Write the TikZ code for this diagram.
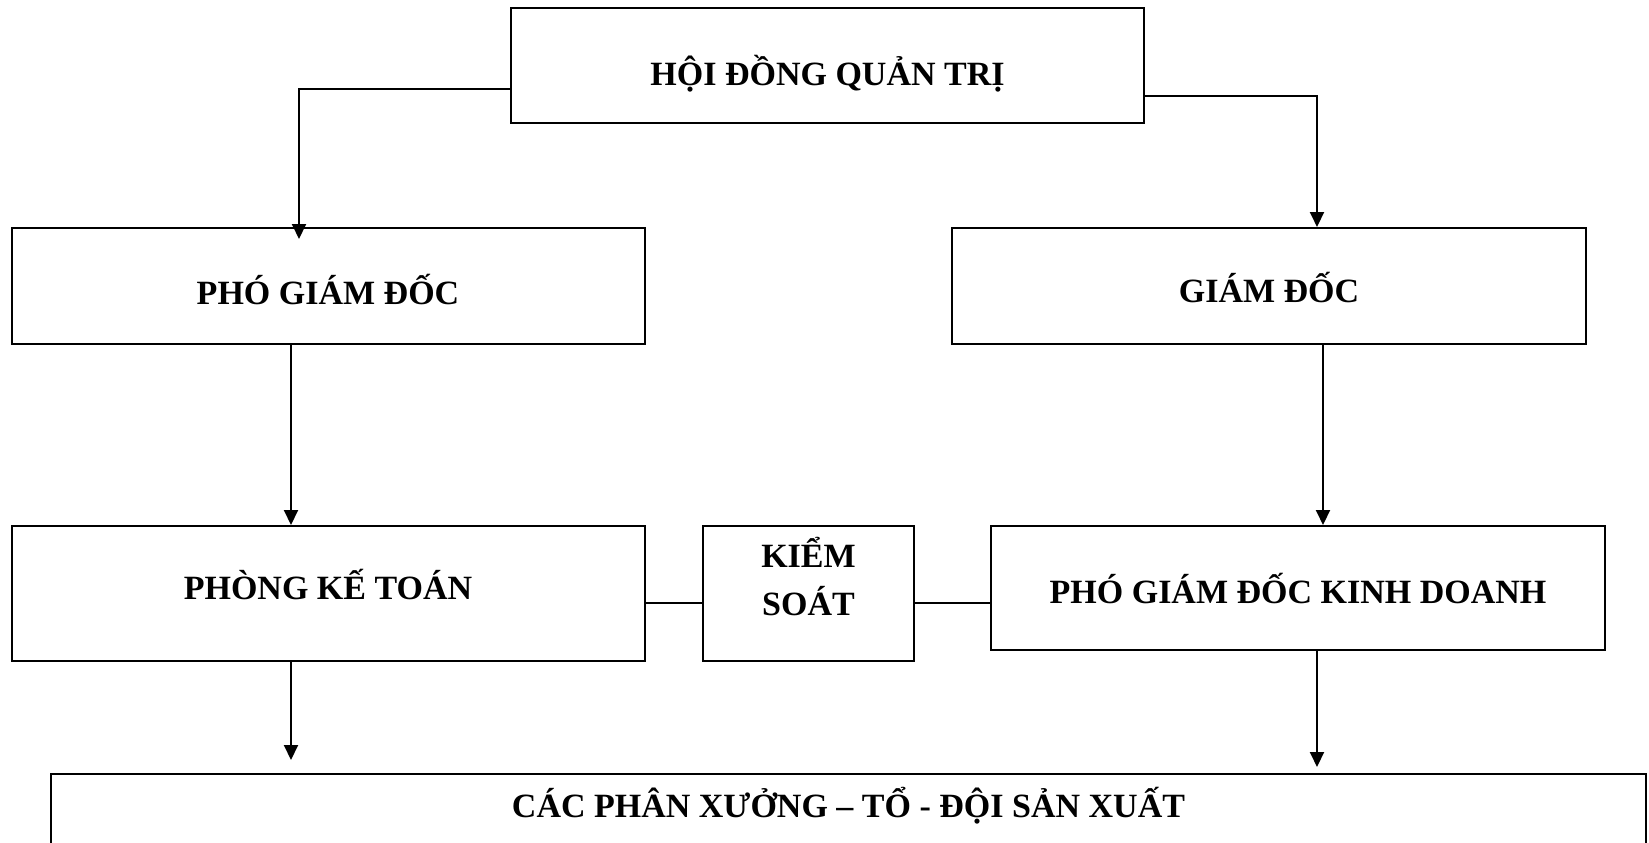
\documentclass[tikz,border=0pt]{standalone}
\usepackage{fontspec}
\setmainfont{Liberation Serif}
\usetikzlibrary{positioning, calc, arrows.meta}

\tikzset{
  box/.style={draw, rectangle, line width=2pt, inner sep=0pt},
  txt/.style={text height=#1, text depth=0pt},
  arr/.style={line width=2pt, -{Triangle[length=15pt, width=14pt]}},
  wire/.style={line width=2pt}
}

\begin{document}
\begin{tikzpicture}[x=1pt, y=-1pt, font=\fontsize{34}{48}\selectfont\bfseries]

  \useasboundingbox (0,0) rectangle (1649,843);
  \clip (0,0) rectangle (1649,843);

  % hội đồng quản trị (trên cùng)
  \node [box, txt=39.3pt, minimum width=633pt, minimum height=115pt] (hdqt) at (827.5,65.5) {HỘI ĐỒNG QUẢN TRỊ};

  % --- hàng thứ hai ---
  \node [box, txt=37.1pt, minimum width=633pt, minimum height=116pt] (pgd) at (328,286) {PHÓ GIÁM ĐỐC};
  \node [box, txt=32.9pt, minimum width=634pt, minimum height=116pt] (gd) at (1269,286) {GIÁM ĐỐC};

  % --- hàng thứ ba ---
  \node [box, txt=12.9pt, minimum width=633pt, minimum height=135pt] (pkt) at (328,593.5) {PHÒNG KẾ TOÁN};
  \node [box, minimum width=211pt, minimum height=135pt] (ks) at (808.5,593.5) {};
  \node [align=center, anchor=north, inner sep=0pt] (kstext) at ([yshift=-12pt]ks.north) {KIỂM\\SOÁT};
  \node [box, txt=30.7pt, minimum width=614pt, minimum height=124pt] (pgdkd) at (1298,588) {PHÓ GIÁM ĐỐC KINH DOANH};

  % --- phân xưởng (dưới cùng, bị cắt ở mép) ---
  \node [box, minimum width=1595pt, minimum height=120pt, anchor=north] (sx) at (848.5,773) {};
  \node (sxtext) at ([yshift=-33pt]sx.north) {CÁC PHÂN XƯỞNG – TỔ - ĐỘI SẢN XUẤT};

  % mũi tên từ hội đồng quản trị
  \draw [arr, shorten >=-12pt] ([yshift=-23pt]hdqt.west) -| ([xshift=-29pt]pgd.north);
  \draw [arr] ([yshift=-30pt]hdqt.east) -| ([xshift=48pt]gd.north);

  % mũi tên xuống hàng thứ ba
  \draw [arr] ([xshift=-37pt]pgd.south) -- ([xshift=-37pt]pgd.south |- pkt.north);
  \draw [arr] ([xshift=54pt]gd.south) -- ([xshift=54pt]gd.south |- pgdkd.north);

  % nối với kiểm soát
  \draw [wire] ([yshift=-9.5pt]pkt.east) -- ([yshift=-9.5pt]ks.west);
  \draw [wire] ([yshift=-9.5pt]ks.east) -- ([yshift=-9.5pt]ks.east -| pgdkd.west);

  % mũi tên xuống phân xưởng
  \draw [arr, shorten >=13pt] ([xshift=-37pt]pkt.south) -- ([xshift=-37pt]pkt.south |- sx.north);
  \draw [arr, shorten >=6pt] ([xshift=19pt]pgdkd.south) -- ([xshift=19pt]pgdkd.south |- sx.north);

\end{tikzpicture}
\end{document}
